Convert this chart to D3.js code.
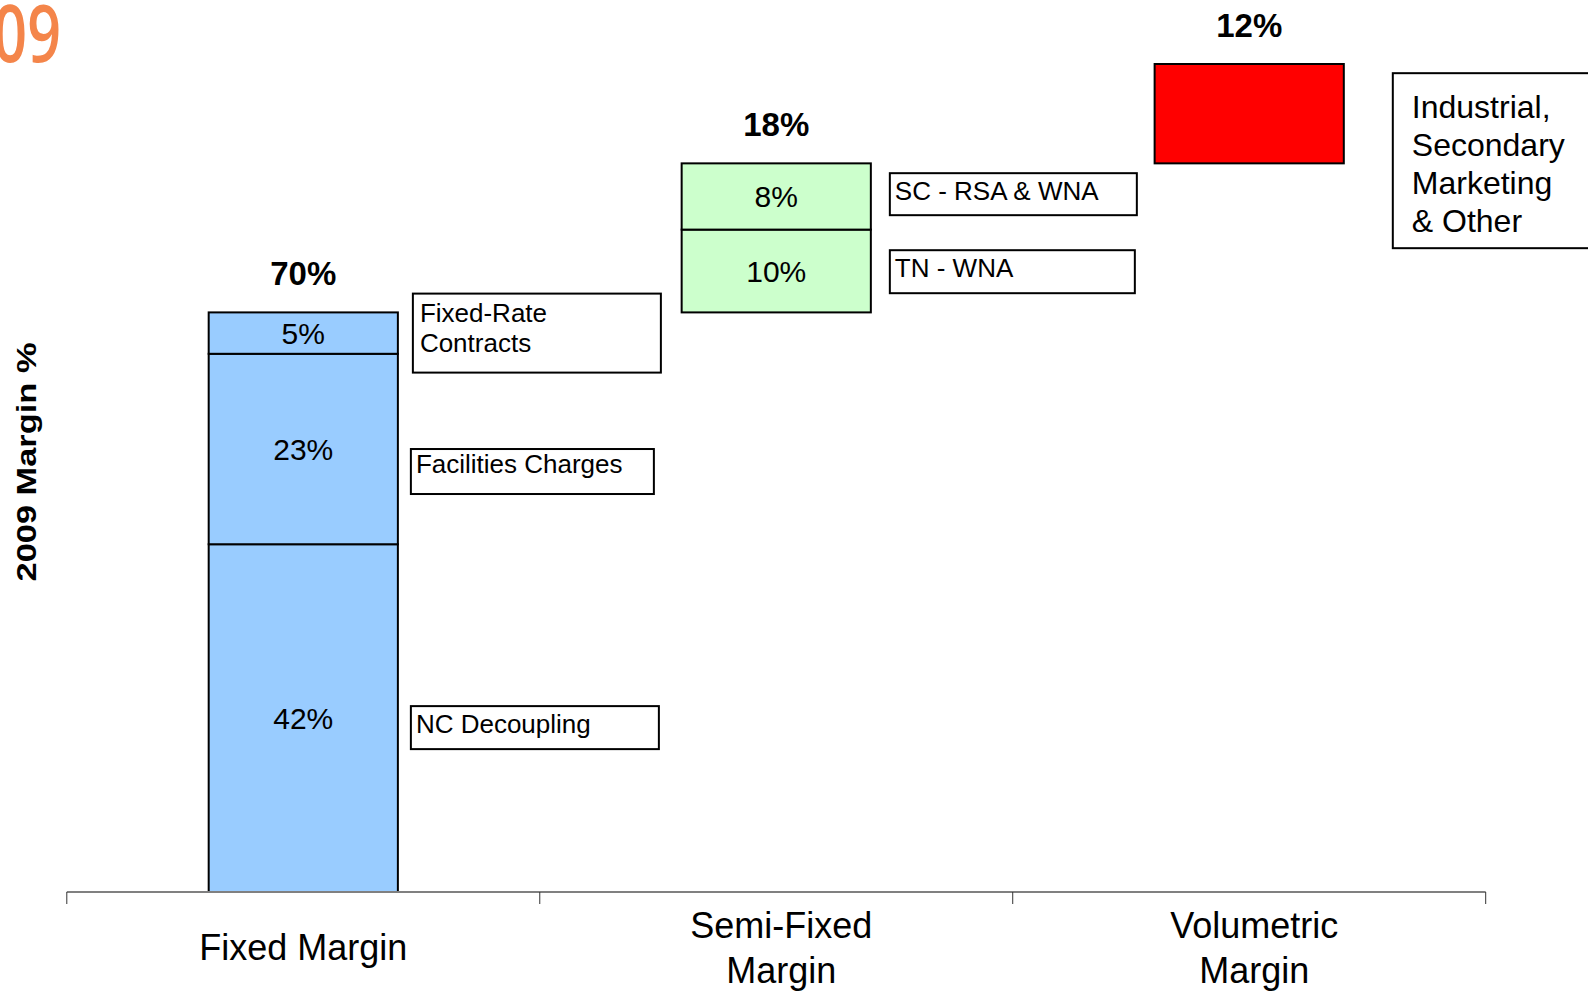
<!DOCTYPE html>
<html>
<head>
<meta charset="utf-8">
<script src="https://cdn.jsdelivr.net/npm/d3@7"></script>
<style>
  html, body { margin: 0; padding: 0; background: #fff; }
  svg { display: block; font-family: "Liberation Sans", Arial, sans-serif; }
</style>
</head>
<body>
<svg id="chart" width="1588" height="995"></svg>
<script>
// Margin buckets along the x axis
const categories = ["Fixed Margin", "Semi-Fixed Margin", "Volumetric Margin"];
const categoryLines = [["Fixed Margin"], ["Semi-Fixed", "Margin"], ["Volumetric", "Margin"]];
const categoryColors = ["#99CCFF", "#CCFFCC", "#FF0000"];

// Stacked components of each bucket (bottom to top), in % of 2009 margin
const segCategory = [0, 0, 0, 1, 1, 2];
const segValue = [42, 23, 5, 10, 8, 12];
const segShowValue = [true, true, true, true, true, false];
const segNote = [
  ["NC Decoupling"],
  ["Facilities Charges"],
  ["Fixed-Rate", "Contracts"],
  ["TN - WNA"],
  ["SC - RSA & WNA"],
  ["Industrial,", "Secondary", "Marketing", "& Other"]
];

// Call-out box geometry relative to the bar edge and segment centre
const noteLayout = [
  { dx: 13, dy: 9.5, w: 248, h: 43, size: 26, pad: 5, first: 27, lh: 30 },
  { dx: 13, dy: 22.5, w: 243, h: 45, size: 26, pad: 5, first: 24, lh: 30 },
  { dx: 15, dy: 0, w: 248, h: 79, size: 26, pad: 7, first: 28, lh: 30 },
  { dx: 19, dy: 0.7, w: 245, h: 43, size: 26, pad: 5, first: 27, lh: 30 },
  { dx: 19, dy: -2.3, w: 247, h: 42, size: 26, pad: 5, first: 27, lh: 30 },
  { dx: 49, dy: 47, w: 240, h: 175, size: 32, pad: 19, first: 45, lh: 38 }
];

const svg = d3.select("#chart");

const x = d3.scaleBand().domain(categories).range([66.8, 1485.7]).padding(0);
const y = d3.scaleLinear().domain([0, 100]).range([892, 64]);
const barW = x.bandwidth() * 0.4;

// Waterfall: each bucket starts where the previous one ended
const totals = categories.map((c, i) => d3.sum(segValue.filter((v, j) => segCategory[j] === i)));
const starts = totals.map((t, i) => d3.sum(totals.slice(0, i)));
const segs = [];
const running = starts.slice();
segValue.forEach((v, j) => {
  const ci = segCategory[j];
  segs.push({ j, ci, v, y0: running[ci], y1: running[ci] + v });
  running[ci] += v;
});
const barX = ci => x(categories[ci]) + (x.bandwidth() - barW) / 2;

// Year heading in the corner, running off the left edge
svg.append("text")
  .attr("transform", "translate(61,62) scale(0.74,1)")
  .attr("text-anchor", "end")
  .attr("font-family", "'Open Sans', 'Liberation Sans', sans-serif")
  .attr("font-size", 80)
  .attr("font-weight", 600)
  .attr("fill", "#F4854A")
  .text("2009");

// Bars
svg.append("g").selectAll("rect")
  .data(segs)
  .join("rect")
  .attr("x", d => barX(d.ci))
  .attr("y", d => y(d.y1))
  .attr("width", barW)
  .attr("height", d => y(d.y0) - y(d.y1))
  .attr("fill", d => categoryColors[d.ci])
  .attr("stroke", "#000")
  .attr("stroke-width", 2);

// Values inside segments
svg.append("g").selectAll("text")
  .data(segs.filter(d => segShowValue[d.j]))
  .join("text")
  .attr("x", d => barX(d.ci) + barW / 2)
  .attr("y", d => (y(d.y0) + y(d.y1)) / 2 + 10.5)
  .attr("text-anchor", "middle")
  .attr("font-size", 30)
  .attr("fill", "#000")
  .text(d => d.v + "%");

// Bucket totals above bars
svg.append("g").selectAll("text")
  .data(categories)
  .join("text")
  .attr("x", (c, i) => barX(i) + barW / 2)
  .attr("y", (c, i) => y(starts[i] + totals[i]) - 27)
  .attr("text-anchor", "middle")
  .attr("font-size", 33)
  .attr("font-weight", "bold")
  .attr("fill", "#000")
  .text((c, i) => totals[i] + "%");

// Call-out boxes
const notes = svg.append("g").selectAll("g")
  .data(segs)
  .join("g")
  .attr("transform", d => {
    const L = noteLayout[d.j];
    const cy = (y(d.y0) + y(d.y1)) / 2 + L.dy;
    return `translate(${barX(d.ci) + barW + L.dx},${cy - L.h / 2})`;
  });
notes.append("rect")
  .attr("width", d => noteLayout[d.j].w)
  .attr("height", d => noteLayout[d.j].h)
  .attr("fill", "#fff")
  .attr("stroke", "#000")
  .attr("stroke-width", 2);
notes.each(function (d) {
  const L = noteLayout[d.j];
  d3.select(this).selectAll("text")
    .data(segNote[d.j])
    .join("text")
    .attr("x", L.pad)
    .attr("y", (t, k) => L.first + k * L.lh)
    .attr("font-size", L.size)
    .attr("fill", "#000")
    .text(t => t);
});

// Category axis
const axisY = y(0);
svg.append("line")
  .attr("x1", x.range()[0]).attr("x2", x.range()[1])
  .attr("y1", axisY).attr("y2", axisY)
  .attr("stroke", "#808080").attr("stroke-width", 2);
const tickXs = categories.map(c => x(c)).concat([x.range()[1]]);
svg.append("g").selectAll("line")
  .data(tickXs)
  .join("line")
  .attr("x1", d => d).attr("x2", d => d)
  .attr("y1", axisY).attr("y2", axisY + 12)
  .attr("stroke", "#333").attr("stroke-width", 1);

const catLabels = svg.append("g").selectAll("text")
  .data(categories)
  .join("text")
  .attr("text-anchor", "middle")
  .attr("font-size", 36)
  .attr("fill", "#000");
catLabels.selectAll("tspan")
  .data((c, i) => categoryLines[i].map((t, k, arr) => ({ t, k, n: arr.length, cx: x(c) + x.bandwidth() / 2 + (arr.length > 1 ? 5 : 0) })))
  .join("tspan")
  .attr("x", d => d.cx)
  .attr("y", d => 960 - (d.n - 1) * 22.5 + d.k * 45)
  .text(d => d.t);

// Value axis title
svg.append("text")
  .attr("transform", "translate(36,462) rotate(-90)")
  .attr("text-anchor", "middle")
  .attr("font-size", 28)
  .attr("font-weight", "bold")
  .attr("textLength", 239)
  .attr("lengthAdjust", "spacingAndGlyphs")
  .attr("fill", "#000")
  .text("2009 Margin %");
</script>
</body>
</html>
